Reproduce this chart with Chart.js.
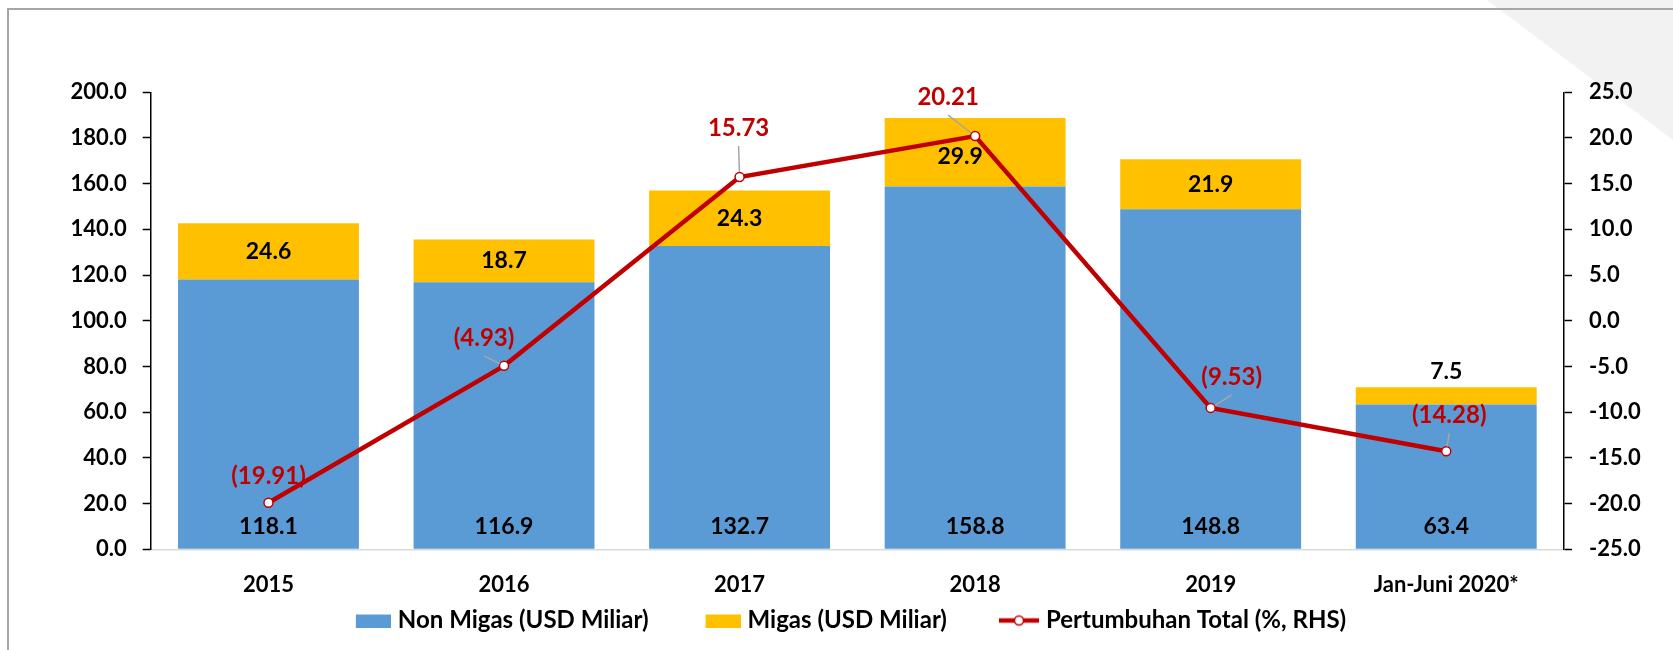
<!DOCTYPE html>
<html lang="id">
<head>
  <meta charset="UTF-8">
  <title>Ekspor Non Migas dan Migas</title>
  <script src="https://cdn.jsdelivr.net/npm/chart.js"></script>
  <style>
    html, body { margin: 0; padding: 0; background: #fff; }
    .wrap { width: 1673px; height: 650px; position: relative; }
  </style>
</head>
<body>

<div class="wrap"><canvas id="ekspor" width="1673" height="650"></canvas></div>

<script>
// data
const categories = ['2015', '2016', '2017', '2018', '2019', 'Jan-Juni 2020*'];
const nonMigas = [118.1, 116.9, 132.7, 158.8, 148.8, 63.4];
const migas = [24.6, 18.7, 24.3, 29.9, 21.9, 7.5];
const growth = [-19.91, -4.93, 15.73, 20.21, -9.53, -14.28];
const leftTicks = [0, 200, 20];    // min, max, step
const rightTicks = [-25, 25, 5];

const BLUE = '#5b9bd5', GOLD = '#ffc000', RED = '#c00000';
const FONT = 'Lato, "Open Sans", sans-serif';

// label placement (pixels), kept apart from the data
const migasShift = [[0, 0], [0, 0], [0, 0], [-15, 4], [0, 0], null]; // null -> above the bar
const growthShift = [[0, -27], [-20, -28], [-1, -49], [-27, -39], [21, -31], [3, -36]];
const growthLeader = [false, true, true, true, true, true];
const LEGEND_ROW_Y = 620.5;

const fmtGrowth = v => v < 0 ? '(' + Math.abs(v).toFixed(2) + ')' : v.toFixed(2);

// legend icons (40px wide, drawn over a 30px legend box so the text sits close)
function icon(draw) {
  const c = document.createElement('canvas');
  c.width = 40; c.height = 14;
  draw(c.getContext('2d'));
  return c;
}
const legendIcons = [
  icon(g => { g.fillStyle = BLUE; g.fillRect(5, 1, 35, 13); }),
  icon(g => { g.fillStyle = GOLD; g.fillRect(5, 1, 35, 13); }),
  icon(g => {
    g.strokeStyle = RED; g.lineWidth = 4.5;
    g.beginPath(); g.moveTo(0, 7); g.lineTo(40, 7); g.stroke();
    g.fillStyle = '#fff'; g.lineWidth = 1.5;
    g.beginPath(); g.arc(20, 7, 4.5, 0, Math.PI * 2); g.fill(); g.stroke();
  })
];

const backdrop = {
  id: 'backdrop',
  afterLayout(chart) {
    // the legend padding also acts vertically; pull the row back to where it sits
    const lg = chart.legend;
    const pad = lg.options.labels.padding, fs = lg.options.labels.font.size;
    lg.top = LEGEND_ROW_Y - pad - fs / 2;
    lg.bottom = chart.height;
    lg.height = lg.bottom - lg.top;
  },
  beforeDraw(chart) {
    const g = chart.ctx, W = chart.width;
    g.save();
    g.fillStyle = '#fff';
    g.fillRect(0, 0, W, chart.height);
    g.fillStyle = '#f2f2f2';
    g.beginPath(); g.moveTo(1487, 0); g.lineTo(W, 0); g.lineTo(W, 140); g.closePath(); g.fill();
    g.strokeStyle = '#a6a6a6'; g.lineWidth = 2;
    g.beginPath(); g.moveTo(8, chart.height); g.lineTo(8, 9); g.lineTo(W, 9); g.stroke();
    g.restore();
  }
};

const valueLabels = {
  id: 'valueLabels',
  afterDatasetsDraw(chart) {
    const g = chart.ctx;
    const base = chart.scales.y.getPixelForValue(0);
    g.save();
    g.font = '700 23px ' + FONT;
    g.textAlign = 'center';
    g.textBaseline = 'middle';

    g.fillStyle = '#000';
    chart.getDatasetMeta(0).data.forEach((bar, i) => {
      g.fillText(nonMigas[i].toFixed(1), bar.x, base - 23);
    });
    chart.getDatasetMeta(1).data.forEach((bar, i) => {
      const s = migasShift[i];
      if (s) g.fillText(migas[i].toFixed(1), bar.x + s[0], (bar.y + bar.base) / 2 + s[1]);
      else g.fillText(migas[i].toFixed(1), bar.x, bar.y - 16);
    });

    g.font = '700 24px ' + FONT;
    chart.getDatasetMeta(2).data.forEach((pt, i) => {
      const lx = pt.x + growthShift[i][0], ly = pt.y + growthShift[i][1];
      if (growthLeader[i]) {
        const sx = lx, sy = ly + 18;
        const d = Math.hypot(pt.x - sx, pt.y - sy);
        const ex = pt.x - (pt.x - sx) / d * 5, ey = pt.y - (pt.y - sy) / d * 5;
        g.strokeStyle = '#a6a6a6'; g.lineWidth = 1.5;
        g.beginPath(); g.moveTo(sx, sy); g.lineTo(ex, ey); g.stroke();
      }
      g.fillStyle = RED;
      g.fillText(fmtGrowth(growth[i]), lx, ly);
    });
    g.restore();
  }
};

new Chart(document.getElementById('ekspor'), {
  data: {
    labels: categories,
    datasets: [
      { type: 'bar', label: 'Non Migas (USD Miliar)', data: nonMigas, backgroundColor: BLUE, yAxisID: 'y', order: 1, stack: 's' },
      { type: 'bar', label: 'Migas (USD Miliar)', data: migas, backgroundColor: GOLD, yAxisID: 'y', order: 2, stack: 's' },
      { type: 'line', label: 'Pertumbuhan Total (%, RHS)', data: growth, yAxisID: 'y1', order: 0,
        borderColor: RED, borderWidth: 4.5, tension: 0,
        pointRadius: 4.5, pointBorderWidth: 1.5, pointBackgroundColor: '#fff', pointBorderColor: RED }
    ]
  },
  options: {
    responsive: false,
    animation: false,
    devicePixelRatio: 1,
    layout: { padding: { top: 92.3, left: 29, right: 0, bottom: 0 } },
    datasets: { bar: { categoryPercentage: 1, barPercentage: 0.768 } },
    scales: {
      x: {
        stacked: true,
        grid: { display: false, drawTicks: false },
        border: { color: '#d9d9d9', width: 1.5 },
        ticks: { padding: 22, color: '#000', font: { family: FONT, size: 22, weight: '700' } },
        afterFit(s) { s.height = 60; }
      },
      y: {
        position: 'left', stacked: true,
        min: leftTicks[0], max: leftTicks[1],
        grid: { drawOnChartArea: false, tickLength: 8, color: '#000', tickWidth: 1.5 },
        border: { color: '#000', width: 1.5 },
        ticks: { stepSize: leftTicks[2], padding: 16, color: '#000',
          font: { family: FONT, size: 22, weight: '700' }, callback: v => v.toFixed(1) },
        afterFit(s) { s.width = 121.7; }
      },
      y1: {
        position: 'right',
        min: rightTicks[0], max: rightTicks[1],
        grid: { drawOnChartArea: false, tickLength: 8, color: '#000', tickWidth: 1.5 },
        border: { color: '#000', width: 1.5 },
        ticks: { stepSize: rightTicks[2], padding: 17, color: '#000',
          font: { family: FONT, size: 22, weight: '700' }, callback: v => v.toFixed(1) },
        afterFit(s) { s.width = 109; }
      }
    },
    plugins: {
      tooltip: { enabled: false },
      legend: {
        position: 'bottom',
        maxHeight: 40.7,
        labels: {
          usePointStyle: true,
          pointStyleWidth: 30,
          padding: 57,
          color: '#000',
          font: { family: FONT, size: 24, weight: '700' },
          generateLabels(chart) {
            const items = Chart.defaults.plugins.legend.labels.generateLabels(chart);
            items.sort((a, b) => a.datasetIndex - b.datasetIndex);
            items.forEach(it => { it.pointStyle = legendIcons[it.datasetIndex]; it.lineWidth = 0; });
            return items;
          }
        }
      }
    }
  },
  plugins: [backdrop, valueLabels]
});
</script>

</body>
</html>
